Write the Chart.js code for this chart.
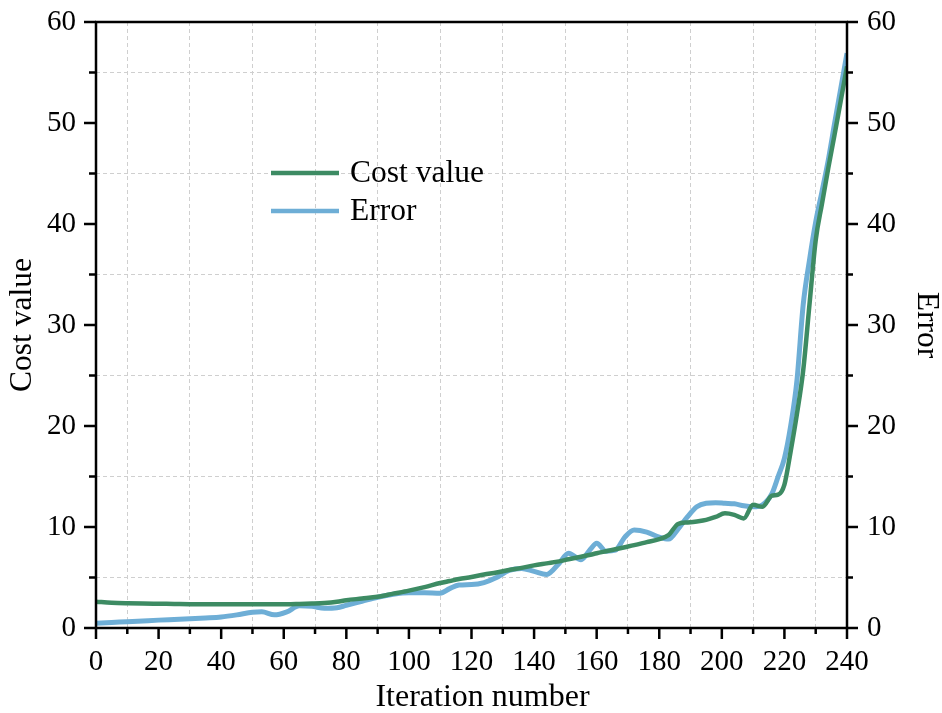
<!DOCTYPE html>
<html>
<head>
<meta charset="utf-8">
<title>Cost value and Error</title>
<script src="https://cdn.jsdelivr.net/npm/chart.js@4.4.1/dist/chart.umd.min.js"></script>
<style>
    html, body { margin: 0; padding: 0; background: #fff; }
    #wrap { width: 942px; height: 713px; }
</style>
</head>
<body>
<div id="wrap"><canvas id="costChart" width="942" height="713"></canvas></div>
<script>
// Data
const iterations = [0, 5, 10, 15, 20, 25, 30, 35, 40, 45, 50, 53, 57, 61, 65, 69, 73, 77, 80, 85,
    90, 95, 100, 105, 110, 113, 116, 120, 124, 128, 132, 136, 140, 144, 148, 151, 155, 158, 160, 163,
    166, 169, 172, 176, 180, 183, 186, 189, 192, 195, 198, 201, 204, 207, 210, 213, 216, 218, 220, 222,
    224, 226, 228, 230, 232, 234, 236, 238, 240];

const costValues = [2.6, 2.5, 2.45, 2.42, 2.4, 2.38, 2.36, 2.35, 2.35, 2.35, 2.35, 2.35, 2.35, 2.35, 2.38, 2.42, 2.48, 2.6, 2.75, 2.92,
    3.1, 3.4, 3.7, 4.05, 4.45, 4.65, 4.85, 5.05, 5.3, 5.5, 5.75, 5.95, 6.2, 6.4, 6.6, 6.8, 7.05, 7.25, 7.4, 7.6,
    7.8, 8.0, 8.2, 8.5, 8.8, 9.2, 10.3, 10.45, 10.55, 10.7, 11.0, 11.35, 11.2, 10.85, 12.2, 12.0, 13.1, 13.2, 14.2, 17.5,
    21.2, 25.5, 32.0, 38.4, 42.0, 45.5, 48.8, 52.2, 55.6];

const errorValues = [0.47, 0.55, 0.62, 0.7, 0.78, 0.85, 0.92, 1.0, 1.1, 1.3, 1.55, 1.6, 1.3, 1.6, 2.2, 2.15, 1.95, 2.0, 2.25, 2.65,
    3.05, 3.35, 3.5, 3.5, 3.45, 3.9, 4.25, 4.3, 4.5, 5.0, 5.7, 5.9, 5.6, 5.3, 6.4, 7.4, 6.75, 7.8, 8.4, 7.6,
    7.7, 9.0, 9.7, 9.5, 9.0, 8.8, 9.8, 11.0, 12.0, 12.35, 12.4, 12.35, 12.3, 12.1, 12.0, 12.2, 13.3, 15.0, 16.8, 20.0,
    24.5, 32.0, 36.4, 40.2, 43.2, 46.3, 49.9, 53.4, 56.9];

const xTicks = [0, 240, 10];   // min, max, step (labels every 20)
const yTicks = [0, 60, 5];     // min, max, step (labels every 10)

const seriesLabels = ['Cost value', 'Error'];
const seriesColors = ['#3d8b63', '#6eaed6'];
const xTitle = 'Iteration number';

const FONT = "'Liberation Serif', 'Times New Roman', serif";

const toPoints = (values) => iterations.map((x, i) => ({ x: x, y: values[i] }));

// minor tick values get the dashed grid, major ones get labels
const isMajor = (v, every) => Math.abs(v % every) < 1e-6;

const gridColor = (every) => (ctx) => {
    if (!ctx.tick) return 'transparent';
    return isMajor(ctx.tick.value, every) ? 'transparent' : '#cfcfcf';
};

// fixed box sizes so the plot area lands where the reference has it
const fitVertical = (width) => (s) => {
    s.width = width;
    s.paddingTop = 0;
    s.paddingBottom = 0;
};

const fitHorizontal = (height) => (s) => {
    s.height = height;
    s.paddingLeft = 0;
    s.paddingRight = 0;
};

// axis lines, tick marks, x title and the legend drawn on top
const framePlugin = {
    id: 'frame',
    afterDatasetsDraw(chart) {
        const { ctx, chartArea: a, scales } = chart;
        ctx.save();
        ctx.strokeStyle = '#000';
        ctx.lineWidth = 2.5;
        ctx.lineCap = 'butt';

        ctx.beginPath();
        ctx.moveTo(a.left, a.bottom); ctx.lineTo(a.right, a.bottom);
        ctx.moveTo(a.left - 1, a.top); ctx.lineTo(a.right + 1, a.top);
        ctx.moveTo(a.left, a.top); ctx.lineTo(a.left, a.bottom + 1);
        ctx.moveTo(a.right, a.top); ctx.lineTo(a.right, a.bottom + 1);
        ctx.stroke();

        ctx.beginPath();
        scales.x.ticks.forEach(t => {
            const px = scales.x.getPixelForValue(t.value);
            ctx.moveTo(px, a.bottom);
            ctx.lineTo(px, a.bottom + (isMajor(t.value, 20) ? 11 : 6));
        });
        scales.y.ticks.forEach(t => {
            const py = scales.y.getPixelForValue(t.value);
            ctx.moveTo(a.left, py);
            ctx.lineTo(a.left - (isMajor(t.value, 10) ? 12 : 7), py);
        });
        scales.y1.ticks.forEach(t => {
            const py = scales.y1.getPixelForValue(t.value);
            ctx.moveTo(a.right, py);
            ctx.lineTo(a.right + (isMajor(t.value, 10) ? 11 : 6), py);
        });
        ctx.stroke();

        // x axis title (sits a bit right of centre in the reference)
        ctx.fillStyle = '#000';
        ctx.font = '32px ' + FONT;
        ctx.textAlign = 'center';
        ctx.textBaseline = 'middle';
        ctx.fillText(xTitle, (a.left + a.right) / 2 + 11, a.bottom + 70);

        // legend inside the plot
        const lx = a.left + 175;
        const ly = a.top + 151;
        ctx.font = '31.5px ' + FONT;
        ctx.textAlign = 'left';
        chart.data.datasets.forEach((ds, i) => {
            const y = ly + i * 38;
            ctx.strokeStyle = ds.borderColor;
            ctx.lineWidth = 4.5;
            ctx.beginPath();
            ctx.moveTo(lx, y);
            ctx.lineTo(lx + 68, y);
            ctx.stroke();
            ctx.fillText(ds.label, lx + 79, y + 1);
        });
        ctx.restore();
    }
};

const tickFont = { family: FONT, size: 29 };
const titleFont = { family: FONT, size: 31.5, lineHeight: 1 };

new Chart(document.getElementById('costChart'), {
    type: 'line',
    data: {
        datasets: [
            {
                label: seriesLabels[0],
                data: toPoints(costValues),
                yAxisID: 'y',
                borderColor: seriesColors[0],
                borderWidth: 4.5,
                pointRadius: 0,
                cubicInterpolationMode: 'monotone'
            },
            {
                label: seriesLabels[1],
                data: toPoints(errorValues),
                yAxisID: 'y1',
                borderColor: seriesColors[1],
                borderWidth: 5,
                pointRadius: 0,
                cubicInterpolationMode: 'monotone'
            }
        ]
    },
    options: {
        responsive: false,
        animation: false,
        devicePixelRatio: 1,
        layout: { padding: { top: 22, left: 0, right: 0, bottom: 0 } },
        plugins: {
            legend: { display: false },
            tooltip: { enabled: false }
        },
        scales: {
            x: {
                type: 'linear',
                min: xTicks[0],
                max: xTicks[1],
                afterFit: fitHorizontal(85),
                ticks: {
                    stepSize: xTicks[2],
                    autoSkip: false,
                    maxRotation: 0,
                    padding: 17,
                    color: '#000',
                    font: tickFont,
                    callback: (v) => isMajor(v, 20) ? v : ''
                },
                grid: { color: gridColor(20), drawTicks: false, lineWidth: 1 },
                border: { display: false, dash: [4, 3] }
            },
            y: {
                position: 'left',
                min: yTicks[0],
                max: yTicks[1],
                afterFit: fitVertical(96),
                ticks: {
                    stepSize: yTicks[2],
                    padding: 20,
                    color: '#000',
                    font: tickFont,
                    callback: (v) => isMajor(v, 10) ? v : ''
                },
                grid: { color: gridColor(10), drawTicks: false, lineWidth: 1 },
                border: { display: false, dash: [4, 3] },
                title: { display: true, text: seriesLabels[0], color: '#000', font: titleFont, padding: { top: 7, bottom: 0 } }
            },
            y1: {
                position: 'right',
                min: yTicks[0],
                max: yTicks[1],
                afterFit: fitVertical(95),
                ticks: {
                    stepSize: yTicks[2],
                    padding: 20,
                    color: '#000',
                    font: tickFont,
                    callback: (v) => isMajor(v, 10) ? v : ''
                },
                grid: { display: false, drawTicks: false },
                border: { display: false },
                title: { display: true, text: seriesLabels[1], color: '#000', font: titleFont, padding: { top: 0, bottom: 0 } }
            }
        }
    },
    plugins: [framePlugin]
});
</script>
</body>
</html>
